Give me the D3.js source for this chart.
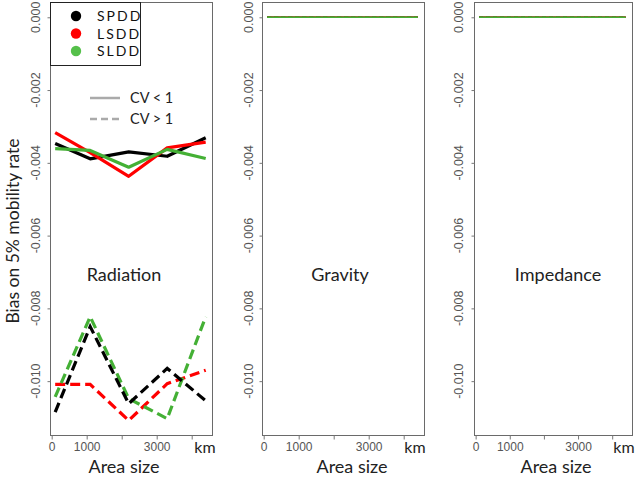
<!DOCTYPE html>
<html><head><meta charset="utf-8">
<script src="https://cdn.jsdelivr.net/npm/d3@7"></script>
<style>body{margin:0;background:#fff}svg{display:block}</style>
</head><body>
<svg id="c" width="638" height="479"></svg>
<script>
// ---- data ----
const areaSizes = [100, 1100, 2200, 3300, 4400];
const models = ["Radiation", "Gravity", "Impedance"];
const seriesNames = ["SPDD", "LSDD", "SLDD"];
const seriesColors = ["#000000", "#ff0000", "#44b035"];
const cvLabels = ["CV < 1", "CV > 1"];
const yTicks = [0, -0.002, -0.004, -0.006, -0.008, -0.010];
const xTicks = [0, 1000, 2000, 3000, 4000];
const xTickLabels = ["0", "1000", "", "3000", ""];

// Radiation, CV < 1 (solid)
const radiation_SPDD_cvLow = [-0.00347, -0.00389, -0.00370, -0.00382, -0.00331];
const radiation_LSDD_cvLow = [-0.00317, -0.00372, -0.00437, -0.00359, -0.00343];
const radiation_SLDD_cvLow = [-0.00361, -0.00366, -0.00412, -0.00363, -0.00388];
// Radiation, CV > 1 (dashed)
const radiation_SPDD_cvHigh = [-0.01085, -0.00850, -0.01062, -0.00965, -0.01054];
const radiation_LSDD_cvHigh = [-0.01009, -0.01009, -0.01108, -0.01007, -0.00970];
const radiation_SLDD_cvHigh = [-0.01043, -0.00823, -0.01048, -0.01103, -0.00823];
// Gravity
const gravity_SPDD_cvLow = [0, 0, 0, 0, 0];
const gravity_LSDD_cvLow = [0, 0, 0, 0, 0];
const gravity_SLDD_cvLow = [0, 0, 0, 0, 0];
const gravity_SPDD_cvHigh = [0, 0, 0, 0, 0];
const gravity_LSDD_cvHigh = [0, 0, 0, 0, 0];
const gravity_SLDD_cvHigh = [0, 0, 0, 0, 0];
// Impedance
const impedance_SPDD_cvLow = [0, 0, 0, 0, 0];
const impedance_LSDD_cvLow = [0, 0, 0, 0, 0];
const impedance_SLDD_cvLow = [0, 0, 0, 0, 0];
const impedance_SPDD_cvHigh = [0, 0, 0, 0, 0];
const impedance_LSDD_cvHigh = [0, 0, 0, 0, 0];
const impedance_SLDD_cvHigh = [0, 0, 0, 0, 0];

const panelData = [
  {low: [radiation_SPDD_cvLow, radiation_LSDD_cvLow, radiation_SLDD_cvLow],
   high: [radiation_SPDD_cvHigh, radiation_LSDD_cvHigh, radiation_SLDD_cvHigh]},
  {low: [gravity_SPDD_cvLow, gravity_LSDD_cvLow, gravity_SLDD_cvLow],
   high: [gravity_SPDD_cvHigh, gravity_LSDD_cvHigh, gravity_SLDD_cvHigh]},
  {low: [impedance_SPDD_cvLow, impedance_LSDD_cvLow, impedance_SLDD_cvLow],
   high: [impedance_SPDD_cvHigh, impedance_LSDD_cvHigh, impedance_SLDD_cvHigh]}
];

// ---- layout ----
const panels = [
  {left: 50, right: 212, tickLabelX: 35, titleX: 124, kmX: 205, areaX: 124},
  {left: 262, right: 424, tickLabelX: 248, titleX: 340, kmX: 415, areaX: 352},
  {left: 474, right: 632, tickLabelX: 458, titleX: 558, kmX: 624, areaX: 556}
];
const plotTop = 2, plotBottom = 435;
const y = d3.scaleLinear().domain([0.00042, -0.01148]).range([plotTop, plotBottom]);
const svg = d3.select("#c");
const sans = "Lato, 'Open Sans', sans-serif";
const helv = "'Liberation Sans', Arial, sans-serif";

panels.forEach((p, i) => {
  const x = d3.scaleLinear().domain([-48, 4580]).range([p.left, p.right]);
  const g = svg.append("g");
  // frame
  g.append("rect").attr("x", p.left + 0.5).attr("y", plotTop + 0.5)
    .attr("width", p.right - p.left).attr("height", plotBottom - plotTop)
    .attr("fill", "none").attr("stroke", "#6a6a6a").attr("stroke-width", 1);
  // y axis
  const ya = d3.axisLeft(y).tickValues(yTicks).tickSize(3).tickFormat(d3.format(".3f"));
  const yg = g.append("g").attr("transform", `translate(${p.left + 0.5},0)`).call(ya);
  yg.select(".domain").remove();
  yg.selectAll(".tick line").attr("stroke", "#777");
  yg.selectAll(".tick text").remove();
  yTicks.forEach(t => {
    g.append("text").attr("transform", `translate(${p.tickLabelX},${y(t)}) rotate(-90)`)
      .attr("text-anchor", "middle").attr("dy", "0.36em")
      .attr("font-family", helv).attr("font-size", 12.5).attr("fill", "#555")
      .text(d3.format(".3f")(t).replace("−", "-"));
  });
  // x axis
  const xa = d3.axisBottom(x).tickValues(xTicks).tickSize(4).tickFormat((d, k) => xTickLabels[k]);
  const xg = g.append("g").attr("transform", `translate(0,${plotBottom + 0.5})`).call(xa);
  xg.select(".domain").remove();
  xg.selectAll(".tick line").attr("stroke", "#777");
  xg.selectAll(".tick text").attr("font-family", helv).attr("font-size", 12)
    .attr("fill", "#555").attr("y", 7);
  g.append("text").attr("x", p.kmX).attr("y", 453).attr("text-anchor", "middle")
    .attr("font-family", sans).attr("font-size", 16).attr("fill", "#222").text("km");
  g.append("text").attr("x", p.areaX).attr("y", 473).attr("text-anchor", "middle")
    .attr("font-family", sans).attr("font-size", 18).attr("fill", "#222").text("Area size");
  // model title
  g.append("text").attr("x", p.titleX).attr("y", 281).attr("text-anchor", "middle")
    .attr("font-family", sans).attr("font-size", 18).attr("fill", "#222").text(models[i]);

  const lw = i === 0 ? 3.2 : 1.5;
  const line = d3.line().x((d, k) => x(areaSizes[k])).y(d => y(d));
  const drawSolid = s => g.append("path").datum(panelData[i].low[s]).attr("d", line)
    .attr("fill", "none").attr("stroke", seriesColors[s]).attr("stroke-width", lw)
    .attr("stroke-linejoin", "round");
  const drawDashed = s => g.append("path").datum(panelData[i].high[s]).attr("d", line)
    .attr("fill", "none").attr("stroke", seriesColors[s]).attr("stroke-width", lw)
    .attr("stroke-dasharray", i === 0 ? "10,5" : "4,3");
  if (i === 0) {
    [0, 1, 2].forEach(drawSolid);
    [1, 2, 0].forEach(drawDashed);
  } else {
    [0, 1].forEach(drawDashed);
    [0, 1, 2].forEach(drawSolid);
    drawDashed(2);
  }
});

// y axis title
svg.append("text").attr("transform", "translate(13,231) rotate(-90)")
  .attr("text-anchor", "middle").attr("dy", "0.36em")
  .attr("font-family", sans).attr("font-size", 17.5).attr("fill", "#222")
  .text("Bias on 5% mobility rate");

// legend
const leg = svg.append("g");
leg.append("rect").attr("x", 50.5).attr("y", 2.5).attr("width", 90).attr("height", 63)
  .attr("fill", "#fff").attr("stroke", "#222").attr("stroke-width", 1);
seriesNames.forEach((n, s) => {
  const cy = 16 + s * 17.5;
  leg.append("circle").attr("cx", 76).attr("cy", cy).attr("r", 5.2).attr("fill", s === 2 ? "#55c04a" : seriesColors[s]);
  leg.append("text").attr("x", 97).attr("y", cy).attr("dy", "0.36em")
    .attr("font-family", sans).attr("font-size", 14).attr("letter-spacing", "2px")
    .attr("fill", "#111").text(n);
});
cvLabels.forEach((n, k) => {
  const cy = 98 + k * 21;
  leg.append("line").attr("x1", 90).attr("x2", 120).attr("y1", cy).attr("y2", cy)
    .attr("stroke", "#aaa").attr("stroke-width", 2.5)
    .attr("stroke-dasharray", k === 1 ? "7,4" : null);
  leg.append("text").attr("x", 130).attr("y", cy).attr("dy", "0.36em")
    .attr("font-family", sans).attr("font-size", 14.5).attr("fill", "#222").text(n);
});
</script>
</body></html>
